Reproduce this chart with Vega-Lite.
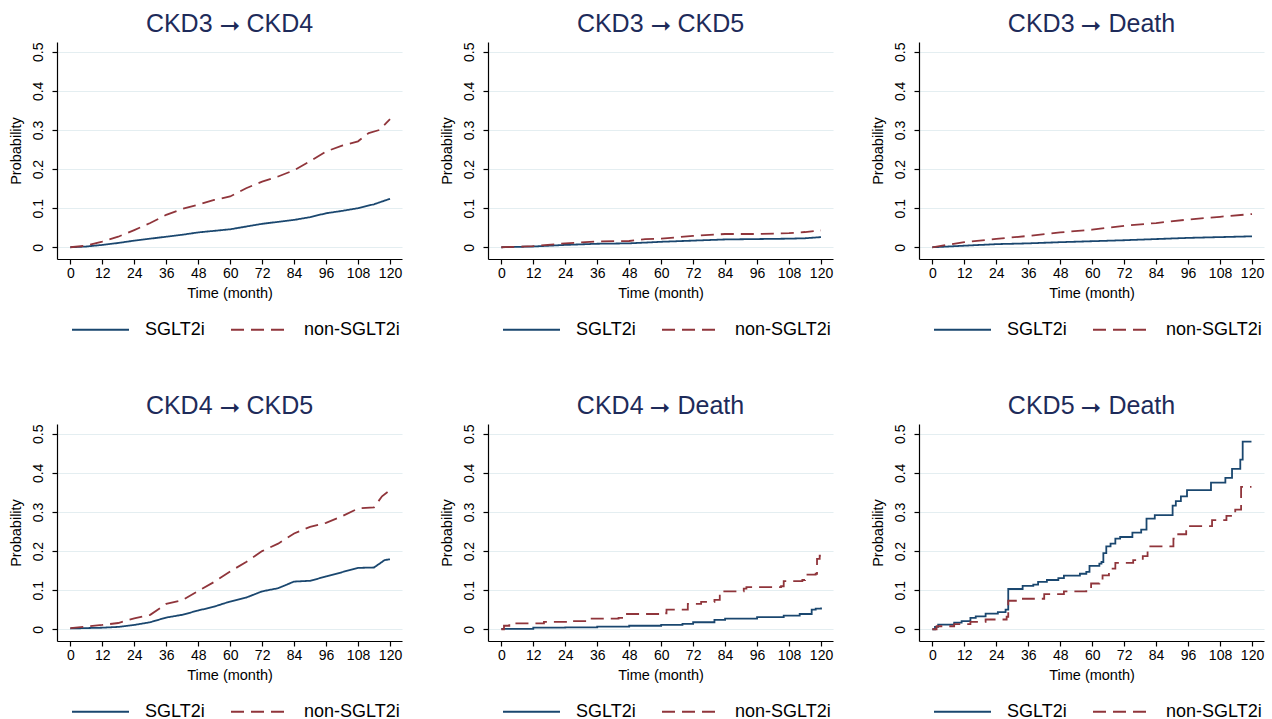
{
  "$schema": "https://vega.github.io/schema/vega-lite/v6.json",
  "padding": {"left": 8, "top": 12, "right": 5, "bottom": 5},
  "background": "white",
  "data": {"values": [
    {"panel":"CKD3→CKD4","group":"SGLT2i","month":0,"prob":0},
    {"panel":"CKD3→CKD4","group":"SGLT2i","month":6,"prob":0.002},
    {"panel":"CKD3→CKD4","group":"SGLT2i","month":12,"prob":0.006},
    {"panel":"CKD3→CKD4","group":"SGLT2i","month":18,"prob":0.011},
    {"panel":"CKD3→CKD4","group":"SGLT2i","month":24,"prob":0.017},
    {"panel":"CKD3→CKD4","group":"SGLT2i","month":30,"prob":0.022},
    {"panel":"CKD3→CKD4","group":"SGLT2i","month":36,"prob":0.027},
    {"panel":"CKD3→CKD4","group":"SGLT2i","month":42,"prob":0.032},
    {"panel":"CKD3→CKD4","group":"SGLT2i","month":48,"prob":0.038},
    {"panel":"CKD3→CKD4","group":"SGLT2i","month":54,"prob":0.042},
    {"panel":"CKD3→CKD4","group":"SGLT2i","month":60,"prob":0.046},
    {"panel":"CKD3→CKD4","group":"SGLT2i","month":66,"prob":0.053},
    {"panel":"CKD3→CKD4","group":"SGLT2i","month":72,"prob":0.06},
    {"panel":"CKD3→CKD4","group":"SGLT2i","month":78,"prob":0.065},
    {"panel":"CKD3→CKD4","group":"SGLT2i","month":84,"prob":0.07},
    {"panel":"CKD3→CKD4","group":"SGLT2i","month":90,"prob":0.077},
    {"panel":"CKD3→CKD4","group":"SGLT2i","month":96,"prob":0.087},
    {"panel":"CKD3→CKD4","group":"SGLT2i","month":102,"prob":0.093},
    {"panel":"CKD3→CKD4","group":"SGLT2i","month":108,"prob":0.1},
    {"panel":"CKD3→CKD4","group":"SGLT2i","month":114,"prob":0.11},
    {"panel":"CKD3→CKD4","group":"SGLT2i","month":120,"prob":0.124},
    {"panel":"CKD3→CKD4","group":"non-SGLT2i","month":0,"prob":0},
    {"panel":"CKD3→CKD4","group":"non-SGLT2i","month":6,"prob":0.004},
    {"panel":"CKD3→CKD4","group":"non-SGLT2i","month":12,"prob":0.0145},
    {"panel":"CKD3→CKD4","group":"non-SGLT2i","month":18,"prob":0.027},
    {"panel":"CKD3→CKD4","group":"non-SGLT2i","month":24,"prob":0.044},
    {"panel":"CKD3→CKD4","group":"non-SGLT2i","month":30,"prob":0.062},
    {"panel":"CKD3→CKD4","group":"non-SGLT2i","month":36,"prob":0.083},
    {"panel":"CKD3→CKD4","group":"non-SGLT2i","month":42,"prob":0.098},
    {"panel":"CKD3→CKD4","group":"non-SGLT2i","month":48,"prob":0.109},
    {"panel":"CKD3→CKD4","group":"non-SGLT2i","month":54,"prob":0.121},
    {"panel":"CKD3→CKD4","group":"non-SGLT2i","month":60,"prob":0.13},
    {"panel":"CKD3→CKD4","group":"non-SGLT2i","month":66,"prob":0.151},
    {"panel":"CKD3→CKD4","group":"non-SGLT2i","month":72,"prob":0.168},
    {"panel":"CKD3→CKD4","group":"non-SGLT2i","month":78,"prob":0.181},
    {"panel":"CKD3→CKD4","group":"non-SGLT2i","month":84,"prob":0.197},
    {"panel":"CKD3→CKD4","group":"non-SGLT2i","month":90,"prob":0.22},
    {"panel":"CKD3→CKD4","group":"non-SGLT2i","month":96,"prob":0.245},
    {"panel":"CKD3→CKD4","group":"non-SGLT2i","month":102,"prob":0.26},
    {"panel":"CKD3→CKD4","group":"non-SGLT2i","month":108,"prob":0.271},
    {"panel":"CKD3→CKD4","group":"non-SGLT2i","month":112,"prob":0.292},
    {"panel":"CKD3→CKD4","group":"non-SGLT2i","month":116,"prob":0.3},
    {"panel":"CKD3→CKD4","group":"non-SGLT2i","month":120,"prob":0.328},

    {"panel":"CKD3→CKD5","group":"SGLT2i","month":0,"prob":0},
    {"panel":"CKD3→CKD5","group":"SGLT2i","month":12,"prob":0.002},
    {"panel":"CKD3→CKD5","group":"SGLT2i","month":24,"prob":0.006},
    {"panel":"CKD3→CKD5","group":"SGLT2i","month":36,"prob":0.009},
    {"panel":"CKD3→CKD5","group":"SGLT2i","month":48,"prob":0.01},
    {"panel":"CKD3→CKD5","group":"SGLT2i","month":54,"prob":0.012},
    {"panel":"CKD3→CKD5","group":"SGLT2i","month":60,"prob":0.014},
    {"panel":"CKD3→CKD5","group":"SGLT2i","month":72,"prob":0.017},
    {"panel":"CKD3→CKD5","group":"SGLT2i","month":84,"prob":0.02},
    {"panel":"CKD3→CKD5","group":"SGLT2i","month":96,"prob":0.021},
    {"panel":"CKD3→CKD5","group":"SGLT2i","month":108,"prob":0.022},
    {"panel":"CKD3→CKD5","group":"SGLT2i","month":114,"prob":0.023},
    {"panel":"CKD3→CKD5","group":"SGLT2i","month":120,"prob":0.026},
    {"panel":"CKD3→CKD5","group":"non-SGLT2i","month":0,"prob":0},
    {"panel":"CKD3→CKD5","group":"non-SGLT2i","month":12,"prob":0.003},
    {"panel":"CKD3→CKD5","group":"non-SGLT2i","month":24,"prob":0.01},
    {"panel":"CKD3→CKD5","group":"non-SGLT2i","month":36,"prob":0.015},
    {"panel":"CKD3→CKD5","group":"non-SGLT2i","month":48,"prob":0.016},
    {"panel":"CKD3→CKD5","group":"non-SGLT2i","month":54,"prob":0.021},
    {"panel":"CKD3→CKD5","group":"non-SGLT2i","month":60,"prob":0.022},
    {"panel":"CKD3→CKD5","group":"non-SGLT2i","month":72,"prob":0.029},
    {"panel":"CKD3→CKD5","group":"non-SGLT2i","month":84,"prob":0.034},
    {"panel":"CKD3→CKD5","group":"non-SGLT2i","month":96,"prob":0.034},
    {"panel":"CKD3→CKD5","group":"non-SGLT2i","month":108,"prob":0.036},
    {"panel":"CKD3→CKD5","group":"non-SGLT2i","month":114,"prob":0.039},
    {"panel":"CKD3→CKD5","group":"non-SGLT2i","month":120,"prob":0.043},

    {"panel":"CKD3→Death","group":"SGLT2i","month":0,"prob":0},
    {"panel":"CKD3→Death","group":"SGLT2i","month":12,"prob":0.004},
    {"panel":"CKD3→Death","group":"SGLT2i","month":24,"prob":0.008},
    {"panel":"CKD3→Death","group":"SGLT2i","month":36,"prob":0.01},
    {"panel":"CKD3→Death","group":"SGLT2i","month":48,"prob":0.013},
    {"panel":"CKD3→Death","group":"SGLT2i","month":60,"prob":0.0155},
    {"panel":"CKD3→Death","group":"SGLT2i","month":72,"prob":0.018},
    {"panel":"CKD3→Death","group":"SGLT2i","month":84,"prob":0.021},
    {"panel":"CKD3→Death","group":"SGLT2i","month":96,"prob":0.024},
    {"panel":"CKD3→Death","group":"SGLT2i","month":108,"prob":0.026},
    {"panel":"CKD3→Death","group":"SGLT2i","month":120,"prob":0.028},
    {"panel":"CKD3→Death","group":"non-SGLT2i","month":0,"prob":0},
    {"panel":"CKD3→Death","group":"non-SGLT2i","month":12,"prob":0.013},
    {"panel":"CKD3→Death","group":"non-SGLT2i","month":24,"prob":0.0215},
    {"panel":"CKD3→Death","group":"non-SGLT2i","month":36,"prob":0.029},
    {"panel":"CKD3→Death","group":"non-SGLT2i","month":48,"prob":0.038},
    {"panel":"CKD3→Death","group":"non-SGLT2i","month":60,"prob":0.045},
    {"panel":"CKD3→Death","group":"non-SGLT2i","month":72,"prob":0.055},
    {"panel":"CKD3→Death","group":"non-SGLT2i","month":84,"prob":0.062},
    {"panel":"CKD3→Death","group":"non-SGLT2i","month":96,"prob":0.071},
    {"panel":"CKD3→Death","group":"non-SGLT2i","month":108,"prob":0.078},
    {"panel":"CKD3→Death","group":"non-SGLT2i","month":120,"prob":0.085},

    {"panel":"CKD4→CKD5","group":"SGLT2i","month":0,"prob":0.002},
    {"panel":"CKD4→CKD5","group":"SGLT2i","month":12,"prob":0.004},
    {"panel":"CKD4→CKD5","group":"SGLT2i","month":18,"prob":0.006},
    {"panel":"CKD4→CKD5","group":"SGLT2i","month":24,"prob":0.011},
    {"panel":"CKD4→CKD5","group":"SGLT2i","month":30,"prob":0.018},
    {"panel":"CKD4→CKD5","group":"SGLT2i","month":36,"prob":0.03},
    {"panel":"CKD4→CKD5","group":"SGLT2i","month":42,"prob":0.037},
    {"panel":"CKD4→CKD5","group":"SGLT2i","month":48,"prob":0.048},
    {"panel":"CKD4→CKD5","group":"SGLT2i","month":54,"prob":0.058},
    {"panel":"CKD4→CKD5","group":"SGLT2i","month":60,"prob":0.071},
    {"panel":"CKD4→CKD5","group":"SGLT2i","month":66,"prob":0.081},
    {"panel":"CKD4→CKD5","group":"SGLT2i","month":72,"prob":0.097},
    {"panel":"CKD4→CKD5","group":"SGLT2i","month":78,"prob":0.105},
    {"panel":"CKD4→CKD5","group":"SGLT2i","month":84,"prob":0.122},
    {"panel":"CKD4→CKD5","group":"SGLT2i","month":90,"prob":0.124},
    {"panel":"CKD4→CKD5","group":"SGLT2i","month":96,"prob":0.135},
    {"panel":"CKD4→CKD5","group":"SGLT2i","month":102,"prob":0.146},
    {"panel":"CKD4→CKD5","group":"SGLT2i","month":108,"prob":0.157},
    {"panel":"CKD4→CKD5","group":"SGLT2i","month":114,"prob":0.158},
    {"panel":"CKD4→CKD5","group":"SGLT2i","month":118,"prob":0.177},
    {"panel":"CKD4→CKD5","group":"SGLT2i","month":120,"prob":0.179},
    {"panel":"CKD4→CKD5","group":"non-SGLT2i","month":0,"prob":0.003},
    {"panel":"CKD4→CKD5","group":"non-SGLT2i","month":6,"prob":0.007},
    {"panel":"CKD4→CKD5","group":"non-SGLT2i","month":12,"prob":0.011},
    {"panel":"CKD4→CKD5","group":"non-SGLT2i","month":18,"prob":0.016},
    {"panel":"CKD4→CKD5","group":"non-SGLT2i","month":24,"prob":0.028},
    {"panel":"CKD4→CKD5","group":"non-SGLT2i","month":30,"prob":0.037},
    {"panel":"CKD4→CKD5","group":"non-SGLT2i","month":36,"prob":0.065},
    {"panel":"CKD4→CKD5","group":"non-SGLT2i","month":42,"prob":0.074},
    {"panel":"CKD4→CKD5","group":"non-SGLT2i","month":48,"prob":0.098},
    {"panel":"CKD4→CKD5","group":"non-SGLT2i","month":54,"prob":0.121},
    {"panel":"CKD4→CKD5","group":"non-SGLT2i","month":60,"prob":0.148},
    {"panel":"CKD4→CKD5","group":"non-SGLT2i","month":66,"prob":0.172},
    {"panel":"CKD4→CKD5","group":"non-SGLT2i","month":72,"prob":0.2},
    {"panel":"CKD4→CKD5","group":"non-SGLT2i","month":78,"prob":0.219},
    {"panel":"CKD4→CKD5","group":"non-SGLT2i","month":84,"prob":0.245},
    {"panel":"CKD4→CKD5","group":"non-SGLT2i","month":90,"prob":0.262},
    {"panel":"CKD4→CKD5","group":"non-SGLT2i","month":96,"prob":0.272},
    {"panel":"CKD4→CKD5","group":"non-SGLT2i","month":102,"prob":0.289},
    {"panel":"CKD4→CKD5","group":"non-SGLT2i","month":108,"prob":0.309},
    {"panel":"CKD4→CKD5","group":"non-SGLT2i","month":114,"prob":0.312},
    {"panel":"CKD4→CKD5","group":"non-SGLT2i","month":117,"prob":0.34},
    {"panel":"CKD4→CKD5","group":"non-SGLT2i","month":120,"prob":0.356},

    {"panel":"CKD4→Death","group":"SGLT2i","month":0,"prob":0.001},
    {"panel":"CKD4→Death","group":"SGLT2i","month":12,"prob":0.004},
    {"panel":"CKD4→Death","group":"SGLT2i","month":24,"prob":0.005},
    {"panel":"CKD4→Death","group":"SGLT2i","month":36,"prob":0.007},
    {"panel":"CKD4→Death","group":"SGLT2i","month":48,"prob":0.009},
    {"panel":"CKD4→Death","group":"SGLT2i","month":60,"prob":0.011},
    {"panel":"CKD4→Death","group":"SGLT2i","month":68,"prob":0.014},
    {"panel":"CKD4→Death","group":"SGLT2i","month":72,"prob":0.018},
    {"panel":"CKD4→Death","group":"SGLT2i","month":80,"prob":0.024},
    {"panel":"CKD4→Death","group":"SGLT2i","month":84,"prob":0.027},
    {"panel":"CKD4→Death","group":"SGLT2i","month":96,"prob":0.031},
    {"panel":"CKD4→Death","group":"SGLT2i","month":106,"prob":0.035},
    {"panel":"CKD4→Death","group":"SGLT2i","month":112,"prob":0.039},
    {"panel":"CKD4→Death","group":"SGLT2i","month":116.5,"prob":0.05},
    {"panel":"CKD4→Death","group":"SGLT2i","month":118,"prob":0.053},
    {"panel":"CKD4→Death","group":"SGLT2i","month":120,"prob":0.056},
    {"panel":"CKD4→Death","group":"non-SGLT2i","month":0,"prob":0},
    {"panel":"CKD4→Death","group":"non-SGLT2i","month":1,"prob":0.009},
    {"panel":"CKD4→Death","group":"non-SGLT2i","month":3,"prob":0.015},
    {"panel":"CKD4→Death","group":"non-SGLT2i","month":16,"prob":0.019},
    {"panel":"CKD4→Death","group":"non-SGLT2i","month":26,"prob":0.021},
    {"panel":"CKD4→Death","group":"non-SGLT2i","month":33,"prob":0.027},
    {"panel":"CKD4→Death","group":"non-SGLT2i","month":44,"prob":0.029},
    {"panel":"CKD4→Death","group":"non-SGLT2i","month":46,"prob":0.039},
    {"panel":"CKD4→Death","group":"non-SGLT2i","month":60,"prob":0.041},
    {"panel":"CKD4→Death","group":"non-SGLT2i","month":62,"prob":0.05},
    {"panel":"CKD4→Death","group":"non-SGLT2i","month":70,"prob":0.065},
    {"panel":"CKD4→Death","group":"non-SGLT2i","month":75,"prob":0.07},
    {"panel":"CKD4→Death","group":"non-SGLT2i","month":80,"prob":0.075},
    {"panel":"CKD4→Death","group":"non-SGLT2i","month":82,"prob":0.097},
    {"panel":"CKD4→Death","group":"non-SGLT2i","month":91,"prob":0.104},
    {"panel":"CKD4→Death","group":"non-SGLT2i","month":92,"prob":0.108},
    {"panel":"CKD4→Death","group":"non-SGLT2i","month":105,"prob":0.11},
    {"panel":"CKD4→Death","group":"non-SGLT2i","month":106,"prob":0.123},
    {"panel":"CKD4→Death","group":"non-SGLT2i","month":113,"prob":0.126},
    {"panel":"CKD4→Death","group":"non-SGLT2i","month":114,"prob":0.14},
    {"panel":"CKD4→Death","group":"non-SGLT2i","month":118,"prob":0.142},
    {"panel":"CKD4→Death","group":"non-SGLT2i","month":118.5,"prob":0.18},
    {"panel":"CKD4→Death","group":"non-SGLT2i","month":119.5,"prob":0.188},
    {"panel":"CKD4→Death","group":"non-SGLT2i","month":120,"prob":0.192},

    {"panel":"CKD5→Death","group":"SGLT2i","month":0,"prob":0},
    {"panel":"CKD5→Death","group":"SGLT2i","month":1,"prob":0.006},
    {"panel":"CKD5→Death","group":"SGLT2i","month":2.2,"prob":0.012},
    {"panel":"CKD5→Death","group":"SGLT2i","month":8.2,"prob":0.017},
    {"panel":"CKD5→Death","group":"SGLT2i","month":11,"prob":0.021},
    {"panel":"CKD5→Death","group":"SGLT2i","month":14.3,"prob":0.029},
    {"panel":"CKD5→Death","group":"SGLT2i","month":16.3,"prob":0.033},
    {"panel":"CKD5→Death","group":"SGLT2i","month":20,"prob":0.04},
    {"panel":"CKD5→Death","group":"SGLT2i","month":24.6,"prob":0.044},
    {"panel":"CKD5→Death","group":"SGLT2i","month":27.5,"prob":0.05},
    {"panel":"CKD5→Death","group":"SGLT2i","month":28.5,"prob":0.103},
    {"panel":"CKD5→Death","group":"SGLT2i","month":33.9,"prob":0.111},
    {"panel":"CKD5→Death","group":"SGLT2i","month":37.9,"prob":0.114},
    {"panel":"CKD5→Death","group":"SGLT2i","month":39.7,"prob":0.121},
    {"panel":"CKD5→Death","group":"SGLT2i","month":43,"prob":0.126},
    {"panel":"CKD5→Death","group":"SGLT2i","month":47.3,"prob":0.131},
    {"panel":"CKD5→Death","group":"SGLT2i","month":49.4,"prob":0.137},
    {"panel":"CKD5→Death","group":"SGLT2i","month":55.4,"prob":0.142},
    {"panel":"CKD5→Death","group":"SGLT2i","month":57.8,"prob":0.147},
    {"panel":"CKD5→Death","group":"SGLT2i","month":59,"prob":0.162},
    {"panel":"CKD5→Death","group":"SGLT2i","month":62.7,"prob":0.168},
    {"panel":"CKD5→Death","group":"SGLT2i","month":63.5,"prob":0.172},
    {"panel":"CKD5→Death","group":"SGLT2i","month":64.2,"prob":0.195},
    {"panel":"CKD5→Death","group":"SGLT2i","month":65.3,"prob":0.212},
    {"panel":"CKD5→Death","group":"SGLT2i","month":66.9,"prob":0.219},
    {"panel":"CKD5→Death","group":"SGLT2i","month":68.7,"prob":0.232},
    {"panel":"CKD5→Death","group":"SGLT2i","month":70.5,"prob":0.236},
    {"panel":"CKD5→Death","group":"SGLT2i","month":75.1,"prob":0.247},
    {"panel":"CKD5→Death","group":"SGLT2i","month":78.4,"prob":0.255},
    {"panel":"CKD5→Death","group":"SGLT2i","month":80.4,"prob":0.283},
    {"panel":"CKD5→Death","group":"SGLT2i","month":83.5,"prob":0.292},
    {"panel":"CKD5→Death","group":"SGLT2i","month":90.2,"prob":0.316},
    {"panel":"CKD5→Death","group":"SGLT2i","month":91.4,"prob":0.328},
    {"panel":"CKD5→Death","group":"SGLT2i","month":93.3,"prob":0.34},
    {"panel":"CKD5→Death","group":"SGLT2i","month":95.6,"prob":0.356},
    {"panel":"CKD5→Death","group":"SGLT2i","month":104.6,"prob":0.375},
    {"panel":"CKD5→Death","group":"SGLT2i","month":110,"prob":0.387},
    {"panel":"CKD5→Death","group":"SGLT2i","month":112.5,"prob":0.41},
    {"panel":"CKD5→Death","group":"SGLT2i","month":115.6,"prob":0.434},
    {"panel":"CKD5→Death","group":"SGLT2i","month":116.5,"prob":0.48},
    {"panel":"CKD5→Death","group":"SGLT2i","month":119.8,"prob":0.48},
    {"panel":"CKD5→Death","group":"non-SGLT2i","month":0,"prob":0},
    {"panel":"CKD5→Death","group":"non-SGLT2i","month":1.6,"prob":0.0077},
    {"panel":"CKD5→Death","group":"non-SGLT2i","month":8.2,"prob":0.013},
    {"panel":"CKD5→Death","group":"non-SGLT2i","month":14.3,"prob":0.019},
    {"panel":"CKD5→Death","group":"non-SGLT2i","month":20,"prob":0.025},
    {"panel":"CKD5→Death","group":"non-SGLT2i","month":27.9,"prob":0.032},
    {"panel":"CKD5→Death","group":"non-SGLT2i","month":28.5,"prob":0.073},
    {"panel":"CKD5→Death","group":"non-SGLT2i","month":34,"prob":0.078},
    {"panel":"CKD5→Death","group":"non-SGLT2i","month":42,"prob":0.09},
    {"panel":"CKD5→Death","group":"non-SGLT2i","month":49.4,"prob":0.097},
    {"panel":"CKD5→Death","group":"non-SGLT2i","month":57.8,"prob":0.104},
    {"panel":"CKD5→Death","group":"non-SGLT2i","month":59.6,"prob":0.117},
    {"panel":"CKD5→Death","group":"non-SGLT2i","month":62.7,"prob":0.125},
    {"panel":"CKD5→Death","group":"non-SGLT2i","month":63.9,"prob":0.138},
    {"panel":"CKD5→Death","group":"non-SGLT2i","month":66.3,"prob":0.155},
    {"panel":"CKD5→Death","group":"non-SGLT2i","month":68.7,"prob":0.17},
    {"panel":"CKD5→Death","group":"non-SGLT2i","month":75.4,"prob":0.177},
    {"panel":"CKD5→Death","group":"non-SGLT2i","month":79,"prob":0.187},
    {"panel":"CKD5→Death","group":"non-SGLT2i","month":80.8,"prob":0.212},
    {"panel":"CKD5→Death","group":"non-SGLT2i","month":90.5,"prob":0.232},
    {"panel":"CKD5→Death","group":"non-SGLT2i","month":91.7,"prob":0.243},
    {"panel":"CKD5→Death","group":"non-SGLT2i","month":95.3,"prob":0.264},
    {"panel":"CKD5→Death","group":"non-SGLT2i","month":105,"prob":0.279},
    {"panel":"CKD5→Death","group":"non-SGLT2i","month":110.4,"prob":0.29},
    {"panel":"CKD5→Death","group":"non-SGLT2i","month":113.7,"prob":0.306},
    {"panel":"CKD5→Death","group":"non-SGLT2i","month":115.9,"prob":0.364},
    {"panel":"CKD5→Death","group":"non-SGLT2i","month":119.8,"prob":0.364}
  ]},
  "columns": 3,
  "spacing": {"row": 55, "column": 37},
  "resolve": {"scale": {"color": "independent", "strokeDash": "independent"}, "legend": {"color": "independent", "strokeDash": "independent"}},
  "concat": [
    {
      "title": "CKD3 ⭢ CKD4",
      "width": 345, "height": 217,
      "transform": [{"filter": "datum.panel === 'CKD3→CKD4'"}],
      "mark": {"type": "line", "interpolate": "linear", "strokeWidth": 1.8},
      "encoding": {
        "x": {"field": "month", "type": "quantitative", "scale": {"domain": [-5, 124.5], "nice": false, "zero": false}, "axis": {"values": [0,12,24,36,48,60,72,84,96,108,120], "title": "Time (month)"}},
        "y": {"field": "prob", "type": "quantitative", "scale": {"domain": [-0.03, 0.525], "nice": false, "zero": false}, "axis": {"values": [0,0.1,0.2,0.3,0.4,0.5], "format": ".1~f", "title": "Probability"}},
        "color": {"field": "group", "type": "nominal", "scale": {"domain": ["SGLT2i", "non-SGLT2i"], "range": ["#1a476f", "#90353b"]}, "legend": {"title": null}},
        "strokeDash": {"field": "group", "type": "nominal", "scale": {"domain": ["SGLT2i", "non-SGLT2i"], "range": [[1, 0], [13, 7]]}, "legend": {"title": null}}
      }
    },
    {
      "title": "CKD3 ⭢ CKD5",
      "width": 345, "height": 217,
      "transform": [{"filter": "datum.panel === 'CKD3→CKD5'"}],
      "mark": {"type": "line", "interpolate": "linear", "strokeWidth": 1.8},
      "encoding": {
        "x": {"field": "month", "type": "quantitative", "scale": {"domain": [-5, 124.5], "nice": false, "zero": false}, "axis": {"values": [0,12,24,36,48,60,72,84,96,108,120], "title": "Time (month)"}},
        "y": {"field": "prob", "type": "quantitative", "scale": {"domain": [-0.03, 0.525], "nice": false, "zero": false}, "axis": {"values": [0,0.1,0.2,0.3,0.4,0.5], "format": ".1~f", "title": "Probability"}},
        "color": {"field": "group", "type": "nominal", "scale": {"domain": ["SGLT2i", "non-SGLT2i"], "range": ["#1a476f", "#90353b"]}, "legend": {"title": null}},
        "strokeDash": {"field": "group", "type": "nominal", "scale": {"domain": ["SGLT2i", "non-SGLT2i"], "range": [[1, 0], [13, 7]]}, "legend": {"title": null}}
      }
    },
    {
      "title": "CKD3 ⭢ Death",
      "width": 345, "height": 217,
      "transform": [{"filter": "datum.panel === 'CKD3→Death'"}],
      "mark": {"type": "line", "interpolate": "linear", "strokeWidth": 1.8},
      "encoding": {
        "x": {"field": "month", "type": "quantitative", "scale": {"domain": [-5, 124.5], "nice": false, "zero": false}, "axis": {"values": [0,12,24,36,48,60,72,84,96,108,120], "title": "Time (month)"}},
        "y": {"field": "prob", "type": "quantitative", "scale": {"domain": [-0.03, 0.525], "nice": false, "zero": false}, "axis": {"values": [0,0.1,0.2,0.3,0.4,0.5], "format": ".1~f", "title": "Probability"}},
        "color": {"field": "group", "type": "nominal", "scale": {"domain": ["SGLT2i", "non-SGLT2i"], "range": ["#1a476f", "#90353b"]}, "legend": {"title": null}},
        "strokeDash": {"field": "group", "type": "nominal", "scale": {"domain": ["SGLT2i", "non-SGLT2i"], "range": [[1, 0], [13, 7]]}, "legend": {"title": null}}
      }
    },
    {
      "title": "CKD4 ⭢ CKD5",
      "width": 345, "height": 217,
      "transform": [{"filter": "datum.panel === 'CKD4→CKD5'"}],
      "mark": {"type": "line", "interpolate": "linear", "strokeWidth": 1.8},
      "encoding": {
        "x": {"field": "month", "type": "quantitative", "scale": {"domain": [-5, 124.5], "nice": false, "zero": false}, "axis": {"values": [0,12,24,36,48,60,72,84,96,108,120], "title": "Time (month)"}},
        "y": {"field": "prob", "type": "quantitative", "scale": {"domain": [-0.03, 0.525], "nice": false, "zero": false}, "axis": {"values": [0,0.1,0.2,0.3,0.4,0.5], "format": ".1~f", "title": "Probability"}},
        "color": {"field": "group", "type": "nominal", "scale": {"domain": ["SGLT2i", "non-SGLT2i"], "range": ["#1a476f", "#90353b"]}, "legend": {"title": null}},
        "strokeDash": {"field": "group", "type": "nominal", "scale": {"domain": ["SGLT2i", "non-SGLT2i"], "range": [[1, 0], [13, 7]]}, "legend": {"title": null}}
      }
    },
    {
      "title": "CKD4 ⭢ Death",
      "width": 345, "height": 217,
      "transform": [{"filter": "datum.panel === 'CKD4→Death'"}],
      "mark": {"type": "line", "interpolate": "step-after", "strokeWidth": 1.8},
      "encoding": {
        "x": {"field": "month", "type": "quantitative", "scale": {"domain": [-5, 124.5], "nice": false, "zero": false}, "axis": {"values": [0,12,24,36,48,60,72,84,96,108,120], "title": "Time (month)"}},
        "y": {"field": "prob", "type": "quantitative", "scale": {"domain": [-0.03, 0.525], "nice": false, "zero": false}, "axis": {"values": [0,0.1,0.2,0.3,0.4,0.5], "format": ".1~f", "title": "Probability"}},
        "color": {"field": "group", "type": "nominal", "scale": {"domain": ["SGLT2i", "non-SGLT2i"], "range": ["#1a476f", "#90353b"]}, "legend": {"title": null}},
        "strokeDash": {"field": "group", "type": "nominal", "scale": {"domain": ["SGLT2i", "non-SGLT2i"], "range": [[1, 0], [13, 7]]}, "legend": {"title": null}}
      }
    },
    {
      "title": "CKD5 ⭢ Death",
      "width": 345, "height": 217,
      "transform": [{"filter": "datum.panel === 'CKD5→Death'"}],
      "mark": {"type": "line", "interpolate": "step-after", "strokeWidth": 1.8},
      "encoding": {
        "x": {"field": "month", "type": "quantitative", "scale": {"domain": [-5, 124.5], "nice": false, "zero": false}, "axis": {"values": [0,12,24,36,48,60,72,84,96,108,120], "title": "Time (month)"}},
        "y": {"field": "prob", "type": "quantitative", "scale": {"domain": [-0.03, 0.525], "nice": false, "zero": false}, "axis": {"values": [0,0.1,0.2,0.3,0.4,0.5], "format": ".1~f", "title": "Probability"}},
        "color": {"field": "group", "type": "nominal", "scale": {"domain": ["SGLT2i", "non-SGLT2i"], "range": ["#1a476f", "#90353b"]}, "legend": {"title": null}},
        "strokeDash": {"field": "group", "type": "nominal", "scale": {"domain": ["SGLT2i", "non-SGLT2i"], "range": [[1, 0], [13, 7]]}, "legend": {"title": null}}
      }
    }
  ],
  "config": {
    "font": "Liberation Sans",
    "view": {"stroke": null},
    "title": {"fontSize": 25, "fontWeight": "normal", "color": "#1e2b5a", "font": "Liberation Sans", "anchor": "middle", "offset": 5},
    "axis": {
      "labelFont": "Liberation Sans", "labelFontSize": 14, "labelColor": "#000",
      "titleFont": "Liberation Sans", "titleFontSize": 14.5, "titleFontWeight": "normal", "titleColor": "#000",
      "domainColor": "#000", "domainWidth": 1.2, "tickColor": "#000", "tickWidth": 1.2, "tickSize": 5,
      "gridColor": "#e4eef1", "gridWidth": 1.2
    },
    "axisX": {"grid": false, "labelPadding": 2, "titlePadding": 6, "labelFlush": false},
    "axisY": {"grid": true, "labelAngle": -90, "labelPadding": 7, "titlePadding": 8, "labelFlush": false},
    "legend": {
      "orient": "none", "legendX": 14, "legendY": 258, "direction": "horizontal", "symbolType": "stroke", "symbolSize": 3249,
      "symbolStrokeWidth": 1.8, "labelFontSize": 18, "labelFont": "Liberation Sans", "labelColor": "#000",
      "labelOffset": 15, "columnPadding": 22
    }
  }
}
